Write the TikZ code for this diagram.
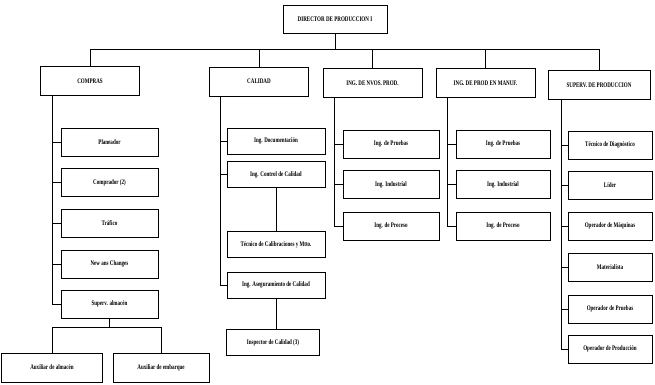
\documentclass[tikz,border=0pt]{standalone}
\usepackage{fontspec}
\setmainfont{Liberation Serif}[FakeStretch=0.72]
\begin{document}
\begin{tikzpicture}[x=1pt,y=-1pt,
  box/.style={draw,line width=1pt,inner sep=0pt,align=center,
    font=\fontsize{7}{8}\selectfont\bfseries},
  head/.style={box,minimum width=99pt,minimum height=29pt},
  link/.style={line width=1pt}]
\useasboundingbox (0,0) rectangle (655,384);

% top level
\node[box,minimum width=104pt,minimum height=28pt] (dir) at (335,19) {DIRECTOR DE PRODUCCION I};

% department heads
\node[head] (compras) at (90,81)  {COMPRAS};
\node[head] (calidad) at (259,81.5) {CALIDAD};
\node[head] (nvos)    at (372.5,83) {ING. DE NVOS. PROD.};
\node[head] (manuf)   at (485.5,83) {ING. DE PROD EN MANUF.};
\node[head,minimum width=102pt] (superv) at (599,85) {SUPERV. DE PRODUCCION};

% bus under the director
\coordinate (bus) at (335,49);
\draw[link] (dir.south) -- (dir.south |- bus);
\draw[link] (compras.north |- bus) -- (superv.north |- bus);
\foreach \n in {compras,calidad,nvos,manuf,superv}
  \draw[link] (\n.north |- bus) -- (\n.north);

% COMPRAS
\begin{scope}[every node/.style={box,minimum width=97pt,minimum height=28pt}]
\node (plan) at (109.5,142)   {Planeador};
\node (comp) at (109.5,182.5) {Comprador (2)};
\node (traf) at (109.5,223.5) {Tráfico};
\node (nav)  at (109.5,264)   {New ans Changes};
\node (salm) at (109.5,304)   {Superv. almacén};
\end{scope}
\coordinate (sp1) at (52,0);
\draw[link] (compras.south -| sp1) |- (salm.west);
\foreach \n in {plan,comp,traf,nav}
  \draw[link] (sp1 |- \n.west) -- (\n.west);

\node[box,minimum width=101pt,minimum height=29pt] (aux1) at (52,367.5) {Auxiliar de almacén};
\node[box,minimum width=96pt,minimum height=29pt] (aux2) at (161,367.5) {Auxiliar de embarque};
\coordinate (bus2) at (0,327);
\draw[link] (salm.south) -- (salm.south |- bus2);
\draw[link] (aux1.north) -- (aux1.north |- bus2) -- (aux2.north |- bus2) -- (aux2.north);

% CALIDAD
\begin{scope}[every node/.style={box,minimum width=98pt,minimum height=26pt}]
\node (doc)  at (276,141)   {Ing. Documentación};
\node (ctrl) at (276,174.5) {Ing. Control de Calidad};
\node (tec)  at (276,244.5) {Técnico de Calibraciones y Mtto.};
\node (aseg) at (276,285)   {Ing. Aseguramiento de Calidad};
\node[minimum width=93pt] (insp) at (273,342.5) {Inspector de Calidad (3)};
\end{scope}
\coordinate (sp2) at (220,0);
\draw[link] (calidad.south -| sp2) |- (aseg.west);
\foreach \n in {doc,ctrl}
  \draw[link] (sp2 |- \n.west) -- (\n.west);
\draw[link] (ctrl.south) -- (tec.north);
\draw[link] (aseg.south) -- (insp.north -| aseg.south);

% ING. DE NVOS. PROD.
\begin{scope}[every node/.style={box,minimum width=96pt,minimum height=28pt}]
\node (np1) at (391,144)   {Ing. de Pruebas};
\node (np2) at (391,184.5) {Ing. Industrial};
\node (np3) at (391,226)   {Ing. de Proceso};
\end{scope}
\coordinate (sp3) at (334,0);
\draw[link] (nvos.south -| sp3) |- (np3.west);
\foreach \n in {np1,np2}
  \draw[link] (sp3 |- \n.west) -- (\n.west);

% ING. DE PROD EN MANUF.
\begin{scope}[every node/.style={box,minimum width=94pt,minimum height=28pt}]
\node (mf1) at (503,144)   {Ing. de Pruebas};
\node (mf2) at (503,184.5) {Ing. Industrial};
\node (mf3) at (503,226)   {Ing. de Proceso};
\end{scope}
\coordinate (sp4) at (447,0);
\draw[link] (manuf.south -| sp4) |- (mf3.west);
\foreach \n in {mf1,mf2}
  \draw[link] (sp4 |- \n.west) -- (\n.west);

% SUPERV. DE PRODUCCION
\begin{scope}[every node/.style={box,minimum width=84pt,minimum height=28pt}]
\node (sv1) at (610,145)   {Técnico de Diagnóstico};
\node (sv2) at (610,185)   {Líder};
\node (sv3) at (610,226)   {Operador de Máquinas};
\node (sv4) at (610,267.5) {Materialista};
\node (sv5) at (610,309)   {Operador de Pruebas};
\node (sv6) at (610,349)   {Operador de Producción};
\end{scope}
\coordinate (sp5) at (561,0);
\draw[link] (superv.south -| sp5) |- (sv6.west);
\foreach \n in {sv1,sv2,sv3,sv4,sv5}
  \draw[link] (sp5 |- \n.west) -- (\n.west);
\end{tikzpicture}
\end{document}
